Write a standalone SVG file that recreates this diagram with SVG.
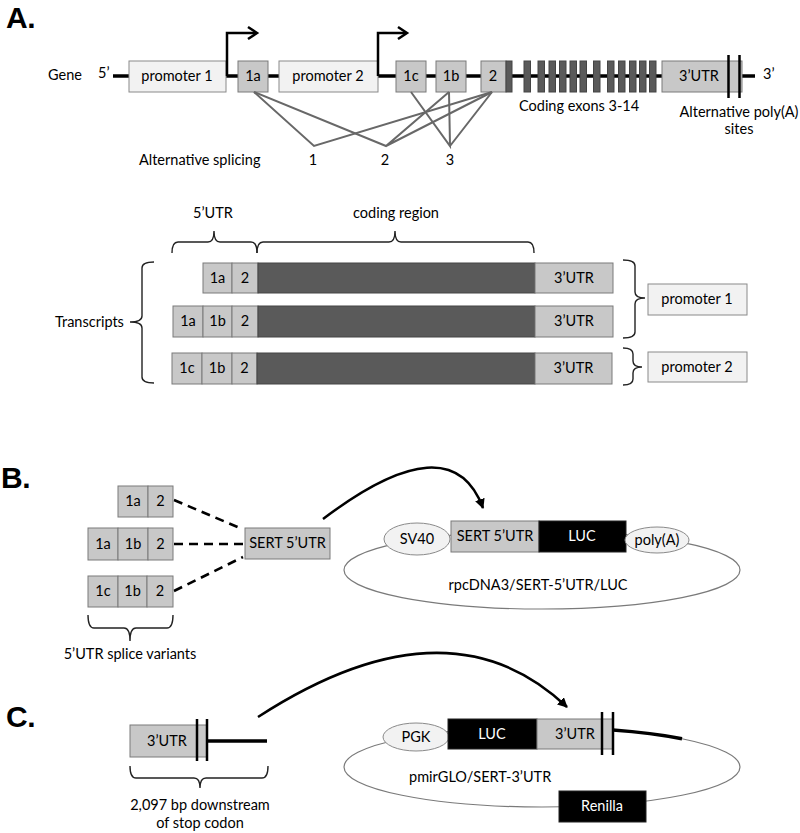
<svg xmlns="http://www.w3.org/2000/svg" width="800" height="833" viewBox="0 0 800 833">
<defs>
<style>
.t{font-family:Lato,"Open Sans","Liberation Sans",sans-serif;font-size:14.5px;fill:#000}
.m{text-anchor:middle}
.w{fill:#fff}
.h{font-family:"Liberation Sans",Arial,sans-serif;font-weight:bold;font-size:30px;fill:#000;letter-spacing:-0.5px}
.lt{fill:#f2f2f2;stroke:#8a8a8a;stroke-width:1}
.ex{fill:#c8c8c8;stroke:#7a7a7a;stroke-width:1}
.dk{fill:#5a5a5a;stroke:#444;stroke-width:1}
.bk{fill:#000;stroke:#222;stroke-width:1}
.sp{stroke:#686868;stroke-width:2;fill:none}
.br{fill:none;stroke:#222;stroke-width:1.4}
.ln{stroke:#000;fill:none}
.pl{fill:none;stroke:#7a7a7a;stroke-width:1.2}
.ds{stroke:#000;stroke-width:2.6;stroke-dasharray:9,6;fill:none}
</style>
<marker id="ah" viewBox="0 0 10 10" refX="9" refY="5" markerWidth="10" markerHeight="10" markerUnits="userSpaceOnUse" orient="auto">
<path d="M0,0 L10,5 L0,10 z" fill="#000"/>
</marker>
</defs>
<rect width="800" height="833" fill="#fff"/>

<!-- Panel labels -->
<text class="h" x="6" y="28">A.</text>
<text class="h" x="1" y="488">B.</text>
<text class="h" x="6" y="727">C.</text>

<!-- Panel A gene -->
<g id="gene">
<text class="t" x="48" y="80">Gene</text>
<text class="t" x="98" y="78">5’</text>
<text class="t" x="763" y="79">3’</text>
<line class="ln" x1="113" y1="76" x2="755" y2="76" stroke-width="3.5"/>
</g>
<g id="promoter1"><rect class="lt" x="129" y="61" width="97" height="31"/><text class="t m" x="177" y="81">promoter 1</text></g>
<g id="tss1"><path class="ln" d="M227,76 V33 H256" stroke-width="2.5"/><polyline class="ln" points="248,27 257,33 248,39" stroke-width="2.5"/></g>
<g id="exon1a"><rect class="ex" x="238" y="61" width="30" height="31"/><text class="t m" x="253" y="81">1a</text></g>
<g id="promoter2"><rect class="lt" x="279" y="61" width="99" height="31"/><text class="t m" x="328" y="81">promoter 2</text></g>
<g id="tss2"><path class="ln" d="M378,76 V33 H406" stroke-width="2.5"/><polyline class="ln" points="398,27 407,33 398,39" stroke-width="2.5"/></g>
<g id="exon1c"><rect class="ex" x="396" y="61" width="30" height="31"/><text class="t m" x="411" y="81">1c</text></g>
<g id="exon1b"><rect class="ex" x="436" y="61" width="30" height="31"/><text class="t m" x="451" y="81">1b</text></g>
<g id="exon2"><rect class="ex" x="481" y="61" width="25" height="31"/><rect class="dk" x="506" y="61" width="6" height="31"/><text class="t m" x="493" y="81">2</text></g>
<g id="coding-exons">
<rect class="dk" x="524" y="61" width="6.5" height="31"/>
<rect class="dk" x="538" y="61" width="6.5" height="31"/>
<rect class="dk" x="549" y="61" width="6.5" height="31"/>
<rect class="dk" x="559.5" y="61" width="6.5" height="31"/>
<rect class="dk" x="570" y="61" width="6.5" height="31"/>
<rect class="dk" x="580" y="61" width="6.5" height="31"/>
<rect class="dk" x="593.5" y="61" width="6.5" height="31"/>
<rect class="dk" x="607.5" y="61" width="6.5" height="31"/>
<rect class="dk" x="618.5" y="61" width="6.5" height="31"/>
<rect class="dk" x="629.5" y="61" width="6.5" height="31"/>
<rect class="dk" x="639.5" y="61" width="6.5" height="31"/>
<rect class="dk" x="649.5" y="61" width="6.5" height="31"/>
<text class="t" x="519" y="111">Coding exons 3-14</text>
</g>
<g id="utr3-gene">
<rect class="ex" x="662" y="61" width="80" height="31"/>
<text class="t m" x="699" y="81">3’UTR</text>
<line class="ln" x1="728.5" y1="55" x2="728.5" y2="98" stroke-width="2.5"/>
<line class="ln" x1="739.5" y1="55" x2="739.5" y2="98" stroke-width="2.5"/>
<text class="t m" x="739" y="117">Alternative poly(A)</text>
<text class="t m" x="739" y="134">sites</text>
</g>
<g id="splicing">
<path class="sp" d="M254,92 L314,146 L492,92"/>
<path class="sp" d="M254,92 L386,146 L449,92 M386,146 L492,92"/>
<path class="sp" d="M411,92 L450,146 L449,92 M450,146 L492,92"/>
<text class="t" x="139" y="165">Alternative splicing</text>
<text class="t m" x="313" y="165">1</text>
<text class="t m" x="385" y="165">2</text>
<text class="t m" x="450" y="165">3</text>
</g>

<!-- Transcripts -->
<g id="brace-5utr">
<text class="t m" x="213" y="218">5’UTR</text>
<path class="br" d="M172,253 Q172,242 178,242 H208 Q214,242 214,231 Q214,242 220,242 H251 Q257,242 257,253"/>
</g>
<g id="brace-coding">
<text class="t m" x="396" y="218">coding region</text>
<path class="br" d="M257,253 Q257,242 263,242 H389 Q395,242 395,231 Q395,242 401,242 H528 Q534,242 534,253"/>
</g>
<g id="transcript1">
<rect class="ex" x="203" y="263" width="29" height="30"/><text class="t m" x="217.5" y="283">1a</text>
<rect class="ex" x="232" y="263" width="26" height="30"/><text class="t m" x="245" y="283">2</text>
<rect class="dk" x="258" y="263" width="277" height="30"/>
<rect class="ex" x="535" y="263" width="78" height="30"/><text class="t m" x="574" y="283">3’UTR</text>
</g>
<g id="transcript2">
<rect class="ex" x="173" y="306" width="30" height="31"/><text class="t m" x="188" y="326">1a</text>
<rect class="ex" x="203" y="306" width="29" height="31"/><text class="t m" x="217.5" y="326">1b</text>
<rect class="ex" x="232" y="306" width="26" height="31"/><text class="t m" x="245" y="326">2</text>
<rect class="dk" x="258" y="306" width="277" height="31"/>
<rect class="ex" x="535" y="306" width="78" height="31"/><text class="t m" x="574" y="326">3’UTR</text>
</g>
<g id="transcript3">
<rect class="ex" x="172" y="353" width="30" height="31"/><text class="t m" x="187" y="373">1c</text>
<rect class="ex" x="202" y="353" width="30" height="31"/><text class="t m" x="217" y="373">1b</text>
<rect class="ex" x="232" y="353" width="25" height="31"/><text class="t m" x="244.5" y="373">2</text>
<rect class="dk" x="257" y="353" width="278" height="31"/>
<rect class="ex" x="535" y="353" width="77" height="31"/><text class="t m" x="573.5" y="373">3’UTR</text>
</g>
<g id="brace-transcripts">
<text class="t" x="55" y="327">Transcripts</text>
<path class="br" d="M154,262 Q142,262 142,268 V316 Q142,322 130,322 Q142,322 142,328 V377 Q142,383 154,383"/>
</g>
<g id="brace-p1">
<path class="br" d="M623,260 Q635,260 635,266 V292 Q635,298 645,298 Q635,298 635,304 V332 Q635,338 623,338"/>
</g>
<g id="promoter1-t"><rect class="lt" x="648" y="284" width="99" height="31"/><text class="t m" x="697" y="304">promoter 1</text></g>
<g id="brace-p2">
<path class="br" d="M623,348 Q633,348 633,354 V361 Q633,367 642,367 Q633,367 633,373 V379 Q633,385 623,385"/>
</g>
<g id="promoter2-t"><rect class="lt" x="648" y="352" width="99" height="30"/><text class="t m" x="697" y="372">promoter 2</text></g>

<!-- Panel B -->
<g id="connectors">
<path class="ds" d="M174,500 L240,528"/>
<path class="ds" d="M174,544 L243,544"/>
<path class="ds" d="M174,591 L243,557"/>
<path class="ln" d="M323,519 Q451,422 483,508" stroke-width="2.5" marker-end="url(#ah)"/>
<path class="ln" d="M258,717 Q448,594 567,707" stroke-width="2.5" marker-end="url(#ah)"/>
</g>
<g id="b-variant1">
<rect class="ex" x="118" y="486" width="30" height="31"/><text class="t m" x="133" y="506">1a</text>
<rect class="ex" x="148" y="486" width="25" height="31"/><text class="t m" x="160.5" y="506">2</text>
</g>
<g id="b-variant2">
<rect class="ex" x="88" y="528" width="30" height="32"/><text class="t m" x="103" y="549">1a</text>
<rect class="ex" x="118" y="528" width="30" height="32"/><text class="t m" x="133" y="549">1b</text>
<rect class="ex" x="148" y="528" width="25" height="32"/><text class="t m" x="160.5" y="549">2</text>
</g>
<g id="b-variant3">
<rect class="ex" x="88" y="576" width="30" height="31"/><text class="t m" x="103" y="596">1c</text>
<rect class="ex" x="118" y="576" width="29" height="31"/><text class="t m" x="132.5" y="596">1b</text>
<rect class="ex" x="147" y="576" width="26" height="31"/><text class="t m" x="160" y="596">2</text>
</g>
<g id="b-brace">
<path class="br" d="M88,615 Q88,628 94,628 H124 Q130,628 130,641 Q130,628 136,628 H167 Q173,628 173,615"/>
<text class="t m" x="130" y="659">5’UTR splice variants</text>
</g>
<g id="b-sert5utr"><rect class="ex" x="245" y="528" width="85" height="31"/><text class="t m" x="287.5" y="548">SERT 5’UTR</text></g>
<g id="b-plasmid">
<ellipse class="pl" cx="542" cy="570" rx="198" ry="39"/>
<text class="t m" x="538" y="590">rpcDNA3/SERT-5’UTR/LUC</text>
</g>
<g id="b-sv40"><ellipse class="lt" cx="417" cy="539" rx="33" ry="16"/><text class="t m" x="417" y="544">SV40</text></g>
<g id="b-insert"><rect class="ex" x="451" y="521" width="88" height="31"/><text class="t m" x="495" y="541">SERT 5’UTR</text></g>
<g id="b-luc"><rect class="bk" x="539" y="521" width="87" height="31"/><text class="t m w" x="582" y="541">LUC</text></g>
<g id="b-polya"><ellipse class="lt" cx="657" cy="540" rx="32" ry="13"/><text class="t m" x="657" y="545">poly(A)</text></g>

<!-- Panel C -->
<g id="c-fragment">
<rect class="ex" x="130" y="725" width="77" height="32"/>
<text class="t m" x="167" y="746">3’UTR</text>
<line class="ln" x1="197" y1="719" x2="197" y2="761" stroke-width="2.5"/>
<line class="ln" x1="207" y1="719" x2="207" y2="761" stroke-width="2.5"/>
<line class="ln" x1="207" y1="741" x2="267" y2="741" stroke-width="3.5"/>
</g>
<g id="c-brace">
<path class="br" d="M130,766 Q130,778 136,778 H194 Q200,778 200,788 Q200,778 206,778 H262 Q268,778 268,766"/>
<text class="t m" x="200" y="810">2,097 bp downstream</text>
<text class="t m" x="200" y="828">of stop codon</text>
</g>
<g id="c-plasmid">
<ellipse class="pl" cx="542" cy="767" rx="198" ry="40"/>
<text class="t" x="409" y="782">pmirGLO/SERT-3’UTR</text>
</g>
<g id="c-pgk"><ellipse class="lt" cx="416" cy="737" rx="33" ry="14"/><text class="t m" x="416" y="742">PGK</text></g>
<g id="c-luc"><rect class="bk" x="448" y="719" width="89" height="30"/><text class="t m w" x="492" y="739">LUC</text></g>
<g id="c-utr3">
<rect class="ex" x="537" y="719" width="76" height="30"/>
<text class="t m" x="575" y="739">3’UTR</text>
<line class="ln" x1="602" y1="712" x2="602" y2="755" stroke-width="2.5"/>
<line class="ln" x1="613" y1="712" x2="613" y2="755" stroke-width="2.5"/>
<path class="ln" d="M613,730 A198,40 0 0 1 682,738.7" stroke-width="3.5"/>
</g>
<g id="c-renilla"><rect class="bk" x="559" y="791" width="87" height="31"/><text class="t m w" x="602" y="811">Renilla</text></g>
</svg>
